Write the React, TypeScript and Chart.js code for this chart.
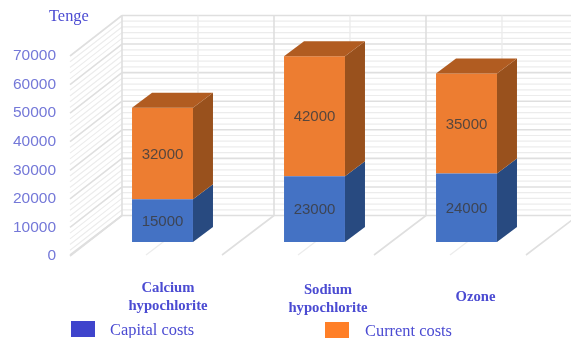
import React, { useEffect, useRef } from "react";
import { Chart, registerables } from "chart.js";

Chart.register(...registerables);

const categories = [["Calcium", "hypochlorite"], ["Sodium", "hypochlorite"], ["Ozone"]];
const capitalCosts = [15000, 23000, 24000];
const currentCosts = [32000, 42000, 35000];
const seriesNames = ["Capital costs", "Current costs"];
const unitLabel = "Tenge";

// Depth of the box behind the value plane, and of a single bar.
const WALL_DX = 52;
const WALL_DY = -40.5;
const BAR_SHIFT_X = 16.5;
const BAR_SHIFT_Y = -14;
const BAR_DX = 20;
const BAR_DY = -15;

const TEXT_BLUE = "#4b4bd2";
const TICK_BLUE = "#7478d8";
const SERIF = '"Liberation Serif", serif';
const SANS = '"Liberation Sans", sans-serif';

// Category caption placement relative to each category's centre.
const captionOffsets = [
  { dx: 22, y: 288 },
  { dx: 30, y: 290 },
  { dx: 25.5, y: 297 },
];
const legendItems = [
  { box: 71, text: 110, y: 321, fill: "#3f44cc" },
  { box: 325, text: 365, y: 322, fill: "#ff7f27" },
];
const sideFaces = ["#284a80", "#99511d"];
const topFaces = ["#2f5597", "#b15c21"];

const line = (ctx: CanvasRenderingContext2D, x1: number, y1: number, x2: number, y2: number) => {
  ctx.beginPath();
  ctx.moveTo(x1, y1);
  ctx.lineTo(x2, y2);
  ctx.stroke();
};

const face = (ctx: CanvasRenderingContext2D, fill: string, pts: number[][]) => {
  ctx.fillStyle = fill;
  ctx.beginPath();
  pts.forEach(([x, y], i) => (i ? ctx.lineTo(x, y) : ctx.moveTo(x, y)));
  ctx.closePath();
  ctx.fill();
};

// Box walls behind the bars, all derived from the chart's scales.
const boxPlugin = {
  id: "box",
  beforeDatasetsDraw(chart: any) {
    const { ctx, scales, chartArea, width } = chart;
    const y = scales.y;
    const x = scales.x;
    const left = chartArea.left;
    const step = (chartArea.right - chartArea.left) / categories.length;
    ctx.save();

    for (let v = 0; v <= 70000; v += 2000) {
      const py = y.getPixelForValue(v);
      const major = v % 10000 === 0;
      ctx.strokeStyle = major ? "#dfdfdf" : "#ececec";
      ctx.lineWidth = major ? 1.6 : 1.2;
      line(ctx, left + WALL_DX, py + WALL_DY, width, py + WALL_DY);
      line(ctx, left, py, left + WALL_DX, py + WALL_DY);
    }

    const top = y.getPixelForValue(70000) + WALL_DY;
    const bottom = y.getPixelForValue(0) + WALL_DY;
    for (let i = 0; i <= categories.length; i++) {
      const front = left + i * step;
      ctx.strokeStyle = "#dfdfdf";
      ctx.lineWidth = 1.6;
      line(ctx, front + WALL_DX, top, front + WALL_DX, bottom);
      line(ctx, front, chartArea.bottom - 1, front + WALL_DX, bottom);
      if (i < categories.length) {
        const mid = x.getPixelForValue(i);
        ctx.strokeStyle = "#ececec";
        ctx.lineWidth = 1.4;
        line(ctx, mid + WALL_DX, top, mid + WALL_DX, bottom);
        line(ctx, mid, chartArea.bottom - 1, mid + WALL_DX, bottom);
      }
    }
    ctx.restore();

    // Bars stand partway into the box.
    ctx.save();
    ctx.translate(BAR_SHIFT_X, BAR_SHIFT_Y);
  },
  afterDatasetsDraw(chart: any) {
    const { ctx } = chart;
    const metas = [chart.getDatasetMeta(0), chart.getDatasetMeta(1)];

    metas.forEach((meta: any, d: number) => {
      meta.data.forEach((bar: any) => {
        const { x, y, base, width } = bar.getProps(["x", "y", "base", "width"], true);
        const r = x + width / 2;
        const l = x - width / 2;
        face(ctx, sideFaces[d], [
          [r, y],
          [r + BAR_DX, y + BAR_DY],
          [r + BAR_DX, base + BAR_DY],
          [r, base],
        ]);
        if (d === metas.length - 1) {
          face(ctx, topFaces[d], [
            [l, y],
            [l + BAR_DX, y + BAR_DY],
            [r + BAR_DX, y + BAR_DY],
            [r, y],
          ]);
        }
      });
    });

    ctx.font = `15px ${SANS}`;
    ctx.textAlign = "center";
    ctx.textBaseline = "middle";
    ctx.fillStyle = "rgba(60,60,64,0.85)";
    metas.forEach((meta: any, d: number) => {
      meta.data.forEach((bar: any, i: number) => {
        const { x, y, base } = bar.getProps(["x", "y", "base"], true);
        const value = chart.data.datasets[d].data[i];
        ctx.fillText(String(value), x, (y + base) / 2 + 1);
      });
    });
    ctx.restore();

    ctx.save();
    ctx.fillStyle = TEXT_BLUE;
    ctx.textBaseline = "middle";
    ctx.textAlign = "center";
    ctx.font = `bold 14.7px ${SERIF}`;
    categories.forEach((lines, i) => {
      const px = chart.scales.x.getPixelForValue(i) + captionOffsets[i].dx;
      lines.forEach((text, n) => ctx.fillText(text, px, captionOffsets[i].y + n * 18));
    });

    ctx.textAlign = "left";
    ctx.font = `16.4px ${SERIF}`;
    ctx.fillText(unitLabel, 49, 17);
    legendItems.forEach((item, i) => {
      ctx.fillStyle = item.fill;
      ctx.fillRect(item.box, item.y, 24, 16);
      ctx.fillStyle = TEXT_BLUE;
      ctx.fillText(seriesNames[i], item.text, item.y + 10);
    });
    ctx.restore();
  },
};

export default function App() {
  const ref = useRef<HTMLCanvasElement>(null);

  useEffect(() => {
    const chart = new Chart(ref.current!, {
      type: "bar",
      data: {
        labels: categories.map((c) => c.join(" ")),
        datasets: [
          { label: seriesNames[0], data: capitalCosts, backgroundColor: "#4472c4", clip: false },
          { label: seriesNames[1], data: currentCosts, backgroundColor: "#ed7d31", clip: false },
        ] as any,
      },
      options: {
        responsive: false,
        animation: false,
        layout: { padding: { top: 56, bottom: 82, left: 0, right: 45 } },
        categoryPercentage: 1,
        barPercentage: 0.401,
        plugins: { legend: { display: false }, title: { display: false }, tooltip: { enabled: false } },
        scales: {
          x: {
            stacked: true,
            grid: { display: false },
            border: { display: false },
            ticks: { display: false },
            afterFit: (s: any) => {
              s.height = 0;
            },
          },
          y: {
            stacked: true,
            min: 0,
            max: 70000,
            grid: { display: false, drawTicks: false },
            border: { display: false },
            ticks: {
              stepSize: 10000,
              padding: 14,
              color: TICK_BLUE,
              font: { family: "Liberation Sans", size: 15.5 },
              callback: (v: number) => String(v),
            },
            afterFit: (s: any) => {
              s.width = 70;
            },
          },
        },
      } as any,
      plugins: [boxPlugin],
    });
    return () => chart.destroy();
  }, []);

  return (
    <canvas
      ref={ref}
      width={571}
      height={338}
      style={{ position: "absolute", left: 0, top: 0, display: "block", background: "#fff" }}
    />
  );
}
